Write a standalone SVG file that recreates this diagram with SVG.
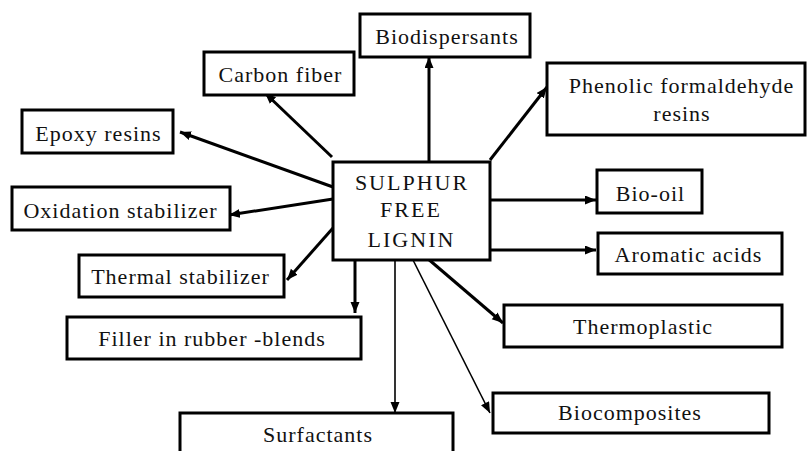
<svg xmlns="http://www.w3.org/2000/svg" width="807" height="451" viewBox="0 0 807 451">
<style>
.box{fill:#fff;stroke:#000;stroke-width:3}
.c{stroke:#000;stroke-width:3;fill:none;marker-end:url(#ah)}
.thin{stroke:#000;stroke-width:1.6;fill:none;marker-end:url(#ah)}
</style>
<defs>
<marker id="ah" markerUnits="userSpaceOnUse" markerWidth="12" markerHeight="10" refX="11" refY="4.5" orient="auto">
<path d="M0,0 L11,4.5 L0,9 z" fill="#000"/>
</marker>
</defs>
<rect width="807" height="451" fill="#fff"/>
<g id="connectors">
<line class="c" x1="332" y1="157" x2="265" y2="93"/>
<line class="c" x1="333" y1="187" x2="180" y2="132"/>
<line class="c" x1="333" y1="199" x2="229" y2="215"/>
<line class="c" x1="333" y1="228" x2="287" y2="280"/>
<line class="c" x1="355" y1="260" x2="355" y2="313"/>
<line class="thin" x1="395" y1="260" x2="395" y2="413"/>
<line class="thin" x1="413" y1="260" x2="490" y2="413"/>
<line class="c" x1="427" y1="258" x2="503" y2="323"/>
<line class="c" x1="490" y1="250" x2="596" y2="250"/>
<line class="c" x1="490" y1="200" x2="596" y2="200"/>
<line class="c" x1="490" y1="160" x2="547" y2="87"/>
<line class="c" x1="429" y1="162" x2="429" y2="57"/>
</g>
<g font-family="Liberation Serif" font-size="22" fill="#111" text-anchor="middle" letter-spacing="1">
<g id="center">
<rect class="box" x="333" y="162" width="157" height="98"/>
<text x="412" y="190" letter-spacing="2">SULPHUR</text>
<text x="411" y="217" letter-spacing="2">FREE</text>
<text x="411.5" y="247" letter-spacing="2">LIGNIN</text>
</g>
<g id="biodispersants">
<rect class="box" x="360" y="14" width="170" height="43"/>
<text x="447" y="44">Biodispersants</text>
</g>
<g id="carbon-fiber">
<rect class="box" x="204" y="52" width="150" height="43"/>
<text x="280.5" y="82">Carbon fiber</text>
</g>
<g id="epoxy-resins">
<rect class="box" x="22" y="110" width="151" height="43"/>
<text x="98.5" y="141">Epoxy resins</text>
</g>
<g id="oxidation-stabilizer">
<rect class="box" x="12" y="187" width="218" height="43"/>
<text x="120.5" y="218">Oxidation stabilizer</text>
</g>
<g id="thermal-stabilizer">
<rect class="box" x="79" y="255" width="205" height="42"/>
<text x="180.5" y="284">Thermal stabilizer</text>
</g>
<g id="filler">
<rect class="box" x="67" y="317" width="294" height="42"/>
<text x="212" y="346">Filler in rubber -blends</text>
</g>
<g id="surfactants">
<rect class="box" x="180" y="413" width="273" height="50"/>
<text x="318" y="442">Surfactants</text>
</g>
<g id="phenolic">
<rect class="box" x="547" y="63" width="258" height="72"/>
<text x="681.5" y="93">Phenolic formaldehyde</text>
<text x="682" y="121">resins</text>
</g>
<g id="bio-oil">
<rect class="box" x="597" y="170" width="105" height="43"/>
<text x="650.5" y="201">Bio-oil</text>
</g>
<g id="aromatic-acids">
<rect class="box" x="598" y="233" width="184" height="41"/>
<text x="688.5" y="262">Aromatic acids</text>
</g>
<g id="thermoplastic">
<rect class="box" x="504" y="305" width="278" height="42"/>
<text x="643" y="334">Thermoplastic</text>
</g>
<g id="biocomposites">
<rect class="box" x="493" y="393" width="276" height="40"/>
<text x="630" y="420">Biocomposites</text>
</g>
</g>
</svg>
